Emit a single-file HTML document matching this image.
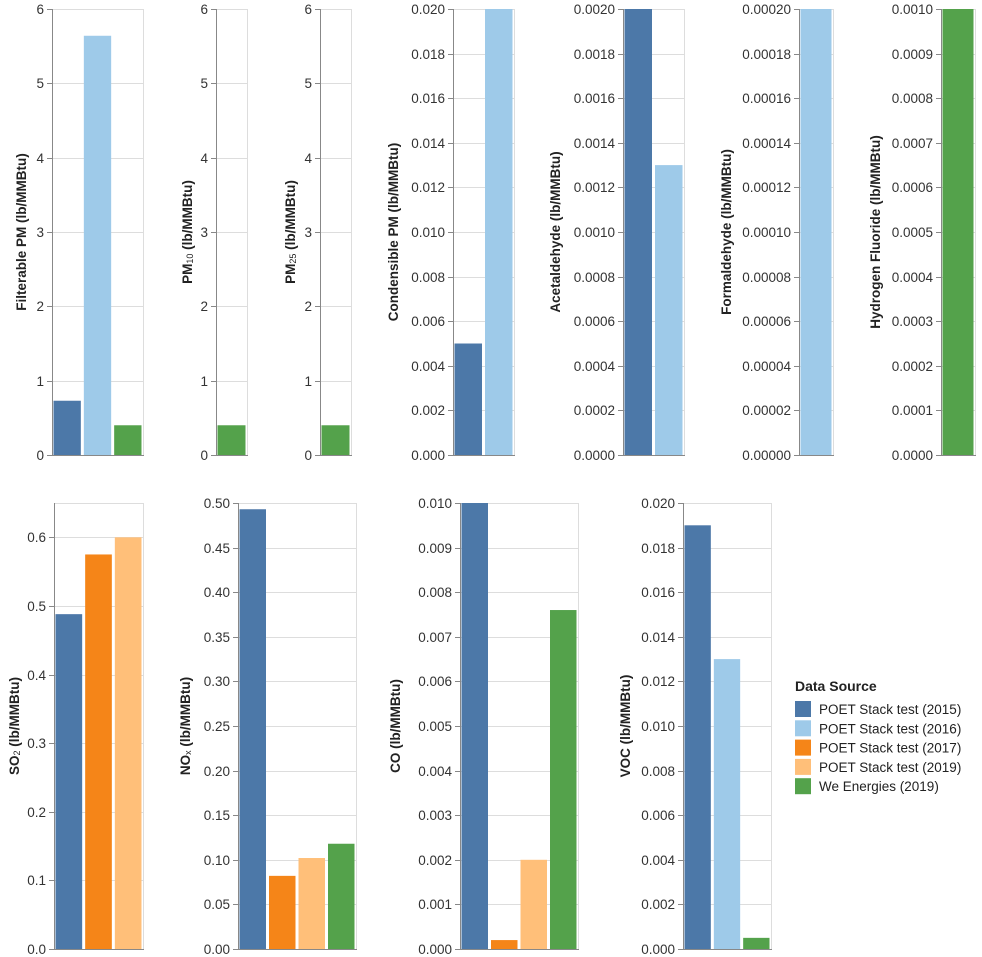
<!DOCTYPE html>
<html><head><meta charset="utf-8">
<style>
html,body{margin:0;padding:0;background:#fff;}
svg{display:block;font-family:"Liberation Sans",Arial,sans-serif;}
.tick{font-size:13.5px;fill:#333;}
.ttl{font-size:13.5px;font-weight:bold;fill:#222;}
</style></head>
<body>
<svg id="chart" width="982" height="957" viewBox="0 0 982 957" xmlns="http://www.w3.org/2000/svg"></svg>
<script>
// ---- data ----
const sources = ["POET Stack test (2015)","POET Stack test (2016)","POET Stack test (2017)","POET Stack test (2019)","We Energies (2019)"];
const colors = ["#4c78a8","#9ecae9","#f58518","#ffbf79","#54a24b"];

const filterablePmSrc = [0,1,4];
const filterablePmVals = [0.73,5.64,0.40];
const pm10Src = [4];
const pm10Vals = [0.40];
const pm25Src = [4];
const pm25Vals = [0.40];
const condensiblePmSrc = [0,1];
const condensiblePmVals = [0.005,0.020];
const acetaldehydeSrc = [0,1];
const acetaldehydeVals = [0.0020,0.0013];
const formaldehydeSrc = [1];
const formaldehydeVals = [0.00020];
const hfSrc = [4];
const hfVals = [0.0010];
const so2Src = [0,2,3];
const so2Vals = [0.488,0.575,0.600];
const noxSrc = [0,2,3,4];
const noxVals = [0.493,0.082,0.102,0.118];
const coSrc = [0,2,3,4];
const coVals = [0.0100,0.0002,0.0020,0.0076];
const vocSrc = [0,1,4];
const vocVals = [0.019,0.013,0.0005];

const panels = [
 {name:"filterable-pm", title:["Filterable PM (lb/MMBtu)"], x0:52,x1:143,top:9,bot:455,max:6,step:1,dec:0,tx:22,src:filterablePmSrc,vals:filterablePmVals},
 {name:"pm10", title:["PM","10"," (lb/MMBtu)"], x0:216,x1:247,top:9,bot:455,max:6,step:1,dec:0,tx:188,src:pm10Src,vals:pm10Vals},
 {name:"pm25", title:["PM","25"," (lb/MMBtu)"], x0:320,x1:351,top:9,bot:455,max:6,step:1,dec:0,tx:291,src:pm25Src,vals:pm25Vals},
 {name:"condensible-pm", title:["Condensible PM (lb/MMBtu)"], x0:453,x1:514,top:9,bot:455,max:0.02,step:0.002,dec:3,tx:394,src:condensiblePmSrc,vals:condensiblePmVals},
 {name:"acetaldehyde", title:["Acetaldehyde (lb/MMBtu)"], x0:623,x1:684,top:9,bot:455,max:0.002,step:0.0002,dec:4,tx:556,src:acetaldehydeSrc,vals:acetaldehydeVals},
 {name:"formaldehyde", title:["Formaldehyde (lb/MMBtu)"], x0:799,x1:833,top:9,bot:455,max:0.0002,step:0.00002,dec:5,tx:727,src:formaldehydeSrc,vals:formaldehydeVals},
 {name:"hydrogen-fluoride", title:["Hydrogen Fluoride (lb/MMBtu)"], x0:941,x1:975,top:9,bot:455,max:0.001,step:0.0001,dec:4,tx:876,src:hfSrc,vals:hfVals},
 {name:"so2", title:["SO","2"," (lb/MMBtu)"], x0:54,x1:143,top:503,bot:949,max:0.65,step:0.1,dec:1,tx:15,src:so2Src,vals:so2Vals},
 {name:"nox", title:["NO","x"," (lb/MMBtu)"], x0:238,x1:356,top:503,bot:949,max:0.5,step:0.05,dec:2,tx:186,src:noxSrc,vals:noxVals},
 {name:"co", title:["CO (lb/MMBtu)"], x0:460,x1:578,top:503,bot:949,max:0.01,step:0.001,dec:3,tx:396,src:coSrc,vals:coVals},
 {name:"voc", title:["VOC (lb/MMBtu)"], x0:683,x1:771,top:503,bot:949,max:0.02,step:0.002,dec:3,tx:626,src:vocSrc,vals:vocVals}
];

const NS="http://www.w3.org/2000/svg";
const svg=document.getElementById("chart");
function mk(tag,attrs,parent){const e=document.createElementNS(NS,tag);for(const k in attrs)e.setAttribute(k,attrs[k]);(parent||svg).appendChild(e);return e;}

panels.forEach(p=>{
  const g=mk("g",{});
  
  
  const y=v=>p.bot-(v/p.max)*(p.bot-p.top);
  const n=Math.floor(p.max/p.step+1e-6);
  for(let i=0;i<=n;i++){
    const v=i*p.step, yy=Math.round(y(v))+0.5;
    if(i>0) mk("line",{x1:p.x0,x2:p.x1,y1:yy,y2:yy,stroke:"#ddd","stroke-width":1},g);
    mk("line",{x1:p.x0-5,x2:p.x0,y1:yy,y2:yy,stroke:"#888","stroke-width":1},g);
    const t=mk("text",{x:p.x0-8,y:yy+4.5,"text-anchor":"end",class:"tick"},g);
    t.textContent=v.toFixed(p.dec);
    
    
  }
  mk("line",{x1:p.x0,x2:p.x1,y1:p.top+0.5,y2:p.top+0.5,stroke:"#ddd","stroke-width":1},g);
  mk("line",{x1:p.x1+0.5,x2:p.x1+0.5,y1:p.top,y2:p.bot,stroke:"#ddd","stroke-width":1},g);
  // bars
  const step=(p.x1-p.x0)/p.vals.length, pad=1.5;
  p.vals.forEach((v,i)=>{
    const r=mk("rect",{x:p.x0+i*step+pad,y:y(v),width:step-2*pad,height:p.bot-y(v),fill:colors[p.src[i]]},g);
    
    
  });
  mk("line",{x1:p.x0+0.5,x2:p.x0+0.5,y1:p.top,y2:p.bot,stroke:"#888","stroke-width":1},g);
  mk("line",{x1:p.x0,x2:p.x1+1,y1:p.bot+0.5,y2:p.bot+0.5,stroke:"#888","stroke-width":1},g);
  const cy=(p.top+p.bot)/2;
  const t=mk("text",{x:p.tx,y:cy,"text-anchor":"middle",class:"ttl",transform:`rotate(-90 ${p.tx} ${cy})`,"dominant-baseline":"middle"},g);
  
  
  p.title.forEach((s,i)=>{
    const ts=mk("tspan",{},t);
    if(p.title.length===3&&i===1){ts.setAttribute("font-size","9");ts.setAttribute("font-weight","normal");ts.setAttribute("dy","3");}
    if(p.title.length===3&&i===2){ts.setAttribute("dy","-3");}
    ts.textContent=s;
  });
});

// legend
const lg=mk("g",{});


const lt=mk("text",{x:795,y:691,"font-size":"14","font-weight":"bold",fill:"#222"},lg);
lt.textContent="Data Source";


sources.forEach((s,i)=>{
  const yy=701+i*19.3;
  const e=mk("g",{},lg);
  
  
  mk("rect",{x:795,y:yy,width:16,height:16,fill:colors[i]},e);
  const t=mk("text",{x:819,y:yy+13,"font-size":"13.5",fill:"#222"},e);
  t.textContent=s;
});
</script>
</body></html>
